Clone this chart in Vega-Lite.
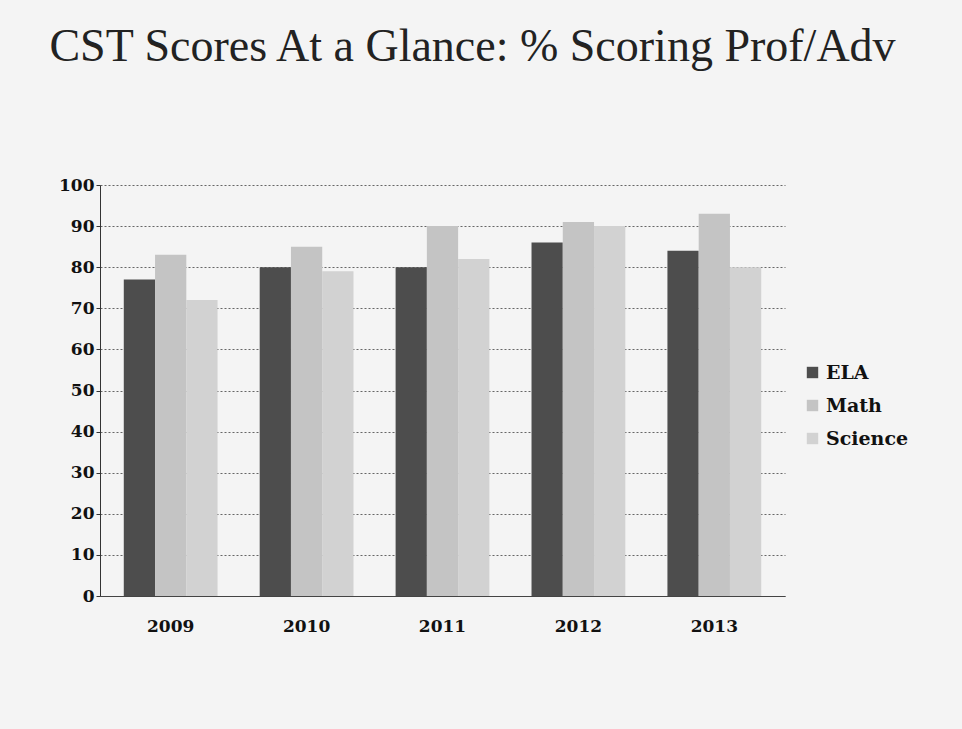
{
  "$schema": "https://vega.github.io/schema/vega-lite/v6.json",
  "autosize": "none",
  "width": 685,
  "height": 411,
  "padding": {"left": 100, "top": 185, "right": 177, "bottom": 133},
  "background": "#f4f4f4",
  "title": {
    "text": "CST Scores At a Glance: % Scoring Prof/Adv",
    "font": "Liberation Serif",
    "fontSize": 46,
    "fontWeight": "normal",
    "color": "#222222",
    "anchor": "middle",
    "frame": "group",
    "dx": 30,
    "offset": 59,
    "baseline": "bottom"
  },
  "data": {
    "values": [
      {"year": "2009", "subject": "ELA", "pct": 77},
      {"year": "2009", "subject": "Math", "pct": 83},
      {"year": "2009", "subject": "Science", "pct": 72},
      {"year": "2010", "subject": "ELA", "pct": 80},
      {"year": "2010", "subject": "Math", "pct": 85},
      {"year": "2010", "subject": "Science", "pct": 79},
      {"year": "2011", "subject": "ELA", "pct": 80},
      {"year": "2011", "subject": "Math", "pct": 90},
      {"year": "2011", "subject": "Science", "pct": 82},
      {"year": "2012", "subject": "ELA", "pct": 86},
      {"year": "2012", "subject": "Math", "pct": 91},
      {"year": "2012", "subject": "Science", "pct": 90},
      {"year": "2013", "subject": "ELA", "pct": 84},
      {"year": "2013", "subject": "Math", "pct": 93},
      {"year": "2013", "subject": "Science", "pct": 80}
    ]
  },
  "mark": {"type": "bar"},
  "encoding": {
    "x": {
      "field": "year",
      "type": "nominal",
      "scale": {"paddingInner": 0.31, "paddingOuter": 0.175},
      "axis": {
        "title": null,
        "labelAngle": 0,
        "labelFont": "DejaVu Serif",
        "labelFontSize": 17,
        "labelFontWeight": "bold",
        "labelColor": "#111111",
        "labelPadding": 22,
        "domainColor": "#444444",
        "ticks": false
      }
    },
    "xOffset": {"field": "subject", "type": "nominal", "sort": ["ELA", "Math", "Science"]},
    "y": {
      "field": "pct",
      "type": "quantitative",
      "scale": {"domain": [0, 100]},
      "axis": {
        "title": null,
        "values": [0, 10, 20, 30, 40, 50, 60, 70, 80, 90, 100],
        "labelFont": "DejaVu Serif",
        "labelFontSize": 17,
        "labelFontWeight": "bold",
        "labelColor": "#111111",
        "labelPadding": 2,
        "domainColor": "#333333",
        "tickColor": "#333333",
        "tickSize": 4,
        "gridColor": "#666666",
        "gridDash": [2, 2],
        "gridWidth": 1
      }
    },
    "color": {
      "field": "subject",
      "type": "nominal",
      "sort": ["ELA", "Math", "Science"],
      "scale": {"domain": ["ELA", "Math", "Science"], "range": ["#4d4d4d", "#c4c4c4", "#d2d2d2"]},
      "legend": {
        "title": null,
        "orient": "none",
        "legendX": 703,
        "legendY": 178,
        "symbolType": "square",
        "symbolSize": 130,
        "labelOffset": 4,
        "labelFont": "DejaVu Serif",
        "labelFontSize": 19,
        "labelFontWeight": "bold",
        "labelColor": "#111111",
        "rowPadding": 13
      }
    }
  },
  "config": {
    "view": {"stroke": null}
  }
}
